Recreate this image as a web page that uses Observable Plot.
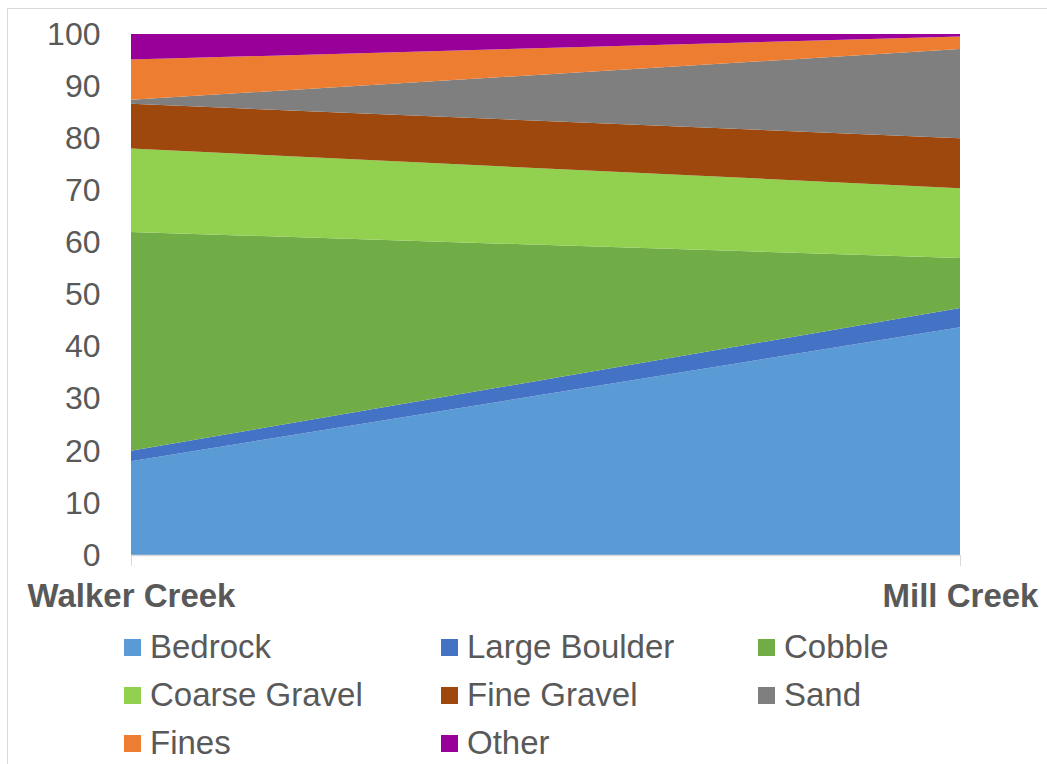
<!DOCTYPE html>
<html>
<head>
<meta charset="utf-8">
<script src="https://cdn.jsdelivr.net/npm/d3@7"></script>
<script src="https://cdn.jsdelivr.net/npm/@observablehq/plot@0.6"></script>
<style>
  html, body { margin: 0; padding: 0; background: #fff; }
  body { width: 1047px; height: 764px; position: relative; overflow: hidden;
         font-family: "Liberation Sans", Arial, sans-serif; }
  #frame { position: absolute; left: 7px; top: 8px; width: 1100px; height: 800px;
           border-left: 1px solid #d9d9d9; border-top: 1px solid #d9d9d9; pointer-events: none; }
  #chart { position: absolute; left: 0; top: 0; }
  #legend { position: absolute; left: 124px; top: 623px; display: grid;
            grid-template-columns: 317px 317px 300px; grid-auto-rows: 48px; }
  .item { display: flex; align-items: center; color: #595959; font-size: 33px; white-space: nowrap; }
  .swatch { width: 17px; height: 17px; margin-right: 9px; flex: none; }
</style>
</head>
<body>
<div id="frame"></div>
<div id="chart"></div>
<div id="legend"></div>
<script>
// Substrate composition (% of reach) at the two creeks
const sites = ["Walker Creek", "Mill Creek"];
const classes = ["Bedrock", "Large Boulder", "Cobble", "Coarse Gravel", "Fine Gravel", "Sand", "Fines", "Other"];
const walkerCreek = [18.0, 2.0, 42.0, 16.0, 8.6, 0.8, 7.7, 4.9];
const millCreek   = [43.7, 3.7, 9.6, 13.4, 9.6, 17.1, 2.4, 0.5];
const colors = ["#5b9bd5", "#4472c4", "#70ad47", "#92d050", "#9e480e", "#7f7f7f", "#ed7d31", "#990099"];
const yTicks = [0, 10, 20, 30, 40, 50, 60, 70, 80, 90, 100];

const seriesBySite = [walkerCreek, millCreek];
const rows = [];
sites.forEach((site, i) => {
  classes.forEach((cls, j) => {
    rows.push({site: i, cls, value: seriesBySite[i][j]});
  });
});

const chart = Plot.plot({
  width: 1047,
  height: 620,
  marginTop: 34,
  marginBottom: 65,
  marginLeft: 131,
  marginRight: 87,
  style: {fontFamily: "'Liberation Sans', Arial, sans-serif", background: "transparent"},
  x: {domain: [0, 1]},
  y: {domain: [0, 100]},
  color: {domain: classes, range: colors},
  marks: [
    Plot.areaY(rows, Plot.stackY({
      x: "site", y: "value", fill: "cls", order: classes, curve: "linear"
    })),
    Plot.ruleY([0], {stroke: "#d9d9d9", strokeWidth: 1.5}),
    Plot.axisY({
      ticks: yTicks, tickSize: 0, tickPadding: 31, fontSize: 32, fill: "#595959",
      label: null
    }),
    Plot.axisX({
      ticks: [0, 1], tickFormat: (d) => sites[d], tickSize: 11, tickPadding: 17,
      stroke: "#d9d9d9", fontSize: 33, fontWeight: "bold", fill: "#595959", label: null
    })
  ]
});
document.getElementById("chart").appendChild(chart);

// Legend, laid out in three columns
const legend = document.getElementById("legend");
classes.forEach((cls, j) => {
  const item = document.createElement("div");
  item.className = "item";
  const sw = document.createElement("span");
  sw.className = "swatch";
  sw.style.background = colors[j];
  const label = document.createElement("span");
  label.textContent = cls;
  item.appendChild(sw);
  item.appendChild(label);
  legend.appendChild(item);
});
</script>
</body>
</html>
